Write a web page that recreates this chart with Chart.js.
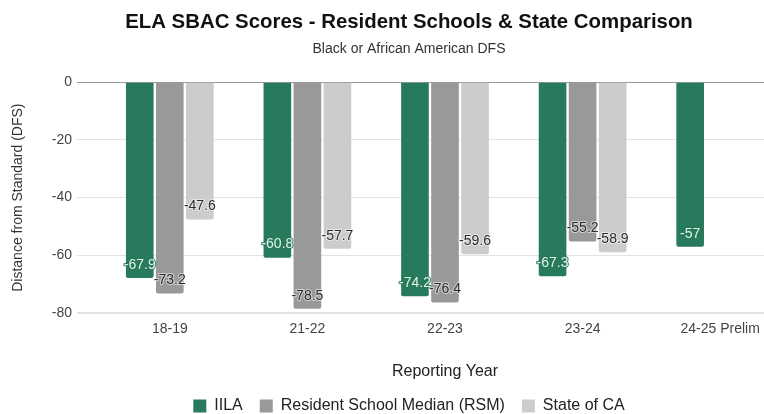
<!DOCTYPE html>
<html>
<head>
<meta charset="utf-8">
<script src="https://cdn.jsdelivr.net/npm/chart.js@4"></script>
<style>
  html, body { margin: 0; padding: 0; background: #fff; overflow: hidden; }
  #wrap { width: 818px; height: 414px; }
</style>
</head>
<body>
<div id="wrap"><canvas id="graficoEla" width="818" height="414"></canvas></div>
<script>
// ELA SBAC - escolas residentes x estado
const anos = ['18-19', '21-22', '22-23', '23-24', '24-25 Prelim'];
const iila = [-67.9, -60.8, -74.2, -67.3, -57];
const rsm = [-73.2, -78.5, -76.4, -55.2, null];
const stateCA = [-47.6, -57.7, -59.6, -58.9, null];
const yTicks = [0, -20, -40, -60, -80];

const fonte = 'Arial, "Liberation Sans", sans-serif';

// rótulos de valor na ponta de cada barra
const rotulos = {
  id: 'rotulos',
  afterDatasetsDraw(chart) {
    const ctx = chart.ctx;
    ctx.save();
    ctx.font = '14px ' + fonte;
    ctx.textAlign = 'center';
    ctx.textBaseline = 'middle';
    ctx.lineJoin = 'round';
    chart.data.datasets.forEach((ds, i) => {
      chart.getDatasetMeta(i).data.forEach((bar, j) => {
        const v = ds.data[j];
        if (v === null) return;
        const y = bar.y - 13;
        if (i === 0) {
          ctx.strokeStyle = 'rgba(39, 122, 91, 0.9)';
          ctx.fillStyle = '#e3f2ea';
        } else {
          ctx.strokeStyle = 'rgba(255, 255, 255, 0.55)';
          ctx.fillStyle = '#2b2b2b';
        }
        ctx.lineWidth = 2;
        ctx.strokeText(String(v), bar.x, y);
        ctx.fillText(String(v), bar.x, y);
      });
    });
    ctx.restore();
  }
};

// legenda mais baixa: altura fixa
const legendaFixa = {
  id: 'legendaFixa',
  beforeInit(chart) {
    const fit = chart.legend.fit;
    chart.legend.fit = function () {
      fit.call(this);
      this.height = 33;
    };
  }
};

const dataEla = {
  labels: anos,
  datasets: [{
    label: 'IILA',
    backgroundColor: '#277a5b',
    data: iila,
  }, {
    label: 'Resident School Median (RSM)',
    backgroundColor: '#999999',
    data: rsm,
  }, {
    label: 'State of CA',
    backgroundColor: '#cccccc',
    data: stateCA,
  }]
};

const configEla = {
  type: 'bar',
  data: dataEla,
  options: {
    responsive: false,
    animation: false,
    devicePixelRatio: 1,
    categoryPercentage: 0.655,
    barPercentage: 0.92,
    borderRadius: 2,
    borderSkipped: 'start',
    layout: { padding: 0 },
    plugins: {
      title: {
        display: true,
        text: 'ELA SBAC Scores - Resident Schools & State Comparison',
        color: '#111',
        font: { family: fonte, size: 20.4, weight: 'bold' },
        padding: { top: 10, bottom: 6 }
      },
      subtitle: {
        display: true,
        text: 'Black or African American DFS',
        color: '#333',
        font: { family: fonte, size: 14 },
        padding: { bottom: 25 }
      },
      legend: {
        position: 'bottom',
        labels: {
          color: '#222',
          font: { family: fonte, size: 16 },
          boxWidth: 13,
          boxHeight: 13,
          padding: 17
        }
      },
      tooltip: { enabled: false }
    },
    scales: {
      x: {
        grid: { display: false, drawTicks: false },
        border: { display: false },
        ticks: { color: '#444', font: { family: fonte, size: 14 }, padding: 8 },
        title: {
          display: true,
          text: 'Reporting Year',
          color: '#222',
          font: { family: fonte, size: 16 },
          padding: { top: 16, bottom: 0 }
        }
      },
      y: {
        min: -80,
        max: 0,
        afterBuildTicks(scale) {
          scale.ticks = yTicks.map(v => ({ value: v }));
        },
        afterFit(scale) { scale.width = 101; },
        grid: {
          color: c => (c.tick && c.tick.value === 0 ? '#9a9a9a' : '#e2e2e2'),
          lineWidth: c => (c.tick && c.tick.value === -80 ? 2 : 1),
          tickLength: 24,
        },
        border: { display: false },
        ticks: { color: '#444', font: { family: fonte, size: 14 }, padding: 5 },
        title: {
          display: true,
          text: 'Distance from Standard (DFS)',
          color: '#333',
          font: { family: fonte, size: 14 },
          padding: { top: 10, bottom: 4 }
        }
      },
      // eixo vazio à direita, só reserva espaço
      yDir: {
        position: 'right',
        min: -80,
        max: 0,
        afterFit(scale) { scale.width = 29; },
        grid: { display: false },
        border: { display: false },
        ticks: { display: false }
      }
    }
  },
  plugins: [rotulos, legendaFixa]
};

const graficoEla = new Chart(document.getElementById('graficoEla'), configEla);
</script>
</body>
</html>
